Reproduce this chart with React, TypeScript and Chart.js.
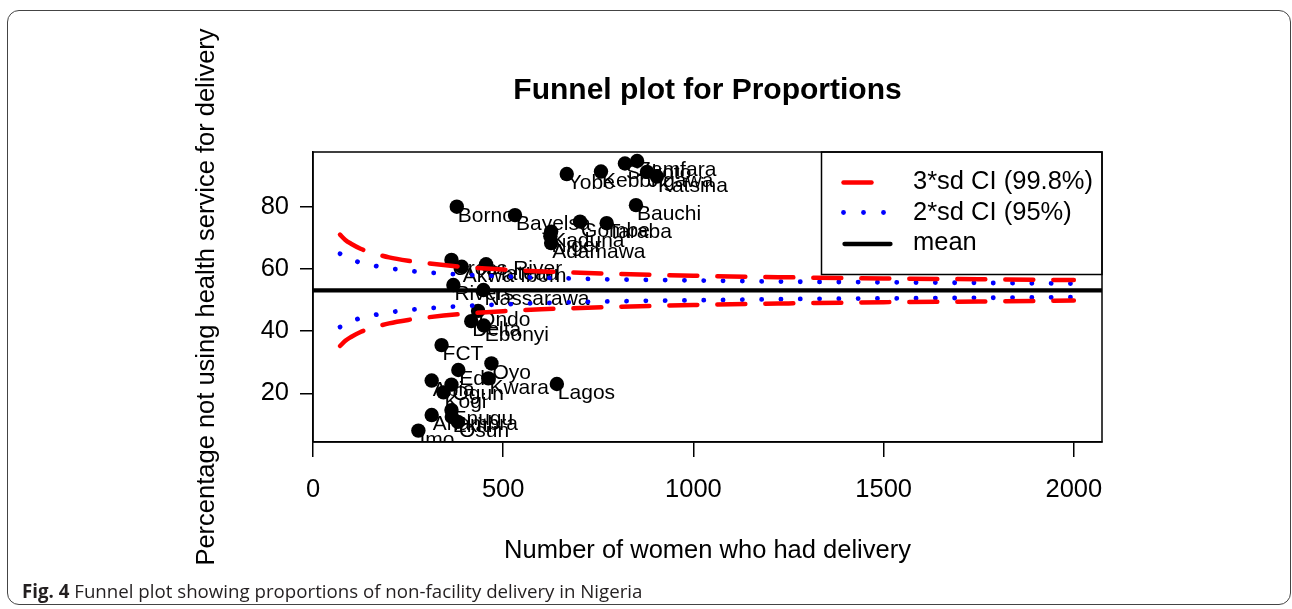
import React, { useEffect, useRef } from 'react';
import { Chart, registerables } from 'chart.js';

Chart.register(...registerables);

// ---- data ----
const stateNames = [
  'Yobe', 'Kebbi', 'Sokoto', 'Zamfara', 'Jigawa', 'Katsina', 'Bauchi', 'Borno', 'Bayelsa',
  'Gombe', 'Taraba', 'Kaduna', 'Niger', 'Adamawa', 'Cross River', 'Akwa Ibom', 'Plateau',
  'Rivers', 'Nassarawa', 'Ondo', 'Delta', 'Ebonyi', 'FCT', 'Oyo', 'Edo', 'Kwara', 'Lagos',
  'Abia', 'Ogun', 'Kogi', 'Enugu', 'Anambra', 'Ekiti', 'Osun', 'Imo',
];
const womenCounts = [
  667, 757, 820, 852, 878, 904, 849, 378, 531,
  702, 772, 626, 624, 626, 364, 391, 455,
  369, 448, 434, 416, 449, 338, 469, 382, 461, 641,
  312, 364, 343, 364, 312, 365, 381, 277,
];
const pctNonFacility = [
  90.5, 91.3, 93.9, 94.7, 91.2, 89.7, 80.5, 80.0, 77.3,
  75.2, 74.7, 72.0, 70.5, 68.3, 62.9, 60.7, 61.5,
  54.8, 53.2, 46.5, 43.2, 41.8, 35.5, 29.6, 27.5, 24.8, 23.0,
  24.1, 22.8, 20.3, 14.6, 13.0, 12.4, 10.8, 8.0,
];

// funnel limits
const ciN = [71, 85, 100, 125, 150, 200, 250, 300, 400, 500, 600, 800, 1000, 1250, 1500, 1750, 2000];
const upper3sd = [71.0, 69.3, 68.1, 66.5, 65.4, 63.7, 62.6, 61.8, 60.6, 59.8, 59.2, 58.4, 57.8, 57.3, 56.9, 56.7, 56.4];
const lower3sd = [35.2, 36.9, 38.1, 39.7, 40.8, 42.5, 43.6, 44.4, 45.6, 46.4, 47.0, 47.8, 48.4, 48.9, 49.3, 49.5, 49.8];
const upper2sd = [64.9, 63.7, 63.1, 62.0, 61.3, 60.2, 59.4, 58.9, 58.1, 57.6, 57.2, 56.6, 56.3, 55.9, 55.7, 55.5, 55.3];
const lower2sd = [41.3, 42.5, 43.1, 44.2, 44.9, 46.0, 46.8, 47.3, 48.1, 48.6, 49.0, 49.6, 49.9, 50.3, 50.5, 50.7, 50.9];
const meanPct = 53.1;

const xTicks = [0, 500, 1000, 1500, 2000];
const yTicks = [20, 40, 60, 80];
const legendLabels = ['3*sd CI (99.8%)', '2*sd CI (95%)', 'mean'];

const X_MIN = 0;
const X_MAX = 2074;
const Y_MIN = 4.34;
const Y_MAX = 97.59;

const FONT = '"Liberation Sans", Arial, Helvetica, sans-serif';
const STATE_DATASET = 5;

const pointLabelPlugin = {
  id: 'pointLabels',
  afterDatasetDraw(chart: any, args: any) {
    if (args.index !== STATE_DATASET) return;
    const { ctx, chartArea: ca } = chart;
    ctx.save();
    ctx.beginPath();
    ctx.rect(ca.left, ca.top, ca.right - ca.left, ca.bottom - ca.top);
    ctx.clip();
    ctx.font = `21px ${FONT}`;
    ctx.fillStyle = '#000';
    ctx.textAlign = 'left';
    ctx.textBaseline = 'middle';
    args.meta.data.forEach((el: any, i: number) => {
      ctx.fillText(stateNames[i], el.x + 1, el.y + 9.5);
    });
    ctx.restore();
  },
};

const boxLegendPlugin = {
  id: 'boxLegend',
  afterDraw(chart: any) {
    const { ctx, chartArea: ca } = chart;
    ctx.save();
    // plot box
    ctx.strokeStyle = '#000';
    ctx.lineWidth = 1.5;
    ctx.setLineDash([]);
    ctx.strokeRect(ca.left, ca.top, ca.right - ca.left, ca.bottom - ca.top);

    // legend box (top-right, inside plot)
    const lx = ca.right - 280.5;
    const ly = ca.top;
    ctx.strokeRect(lx, ly, ca.right - lx, 122.5);

    const rows = [182.5, 212.5, 244];
    const textRows = [182, 212.5, 243];
    const sx = lx + 22;
    // red dashed sample
    ctx.lineCap = 'round';
    ctx.strokeStyle = '#ff0000';
    ctx.lineWidth = 4.5;
    ctx.beginPath();
    ctx.moveTo(sx, rows[0]);
    ctx.lineTo(sx + 28, rows[0]);
    ctx.stroke();
    // blue dotted sample
    ctx.fillStyle = '#0000ff';
    [0, 20, 40].forEach((d) => {
      ctx.beginPath();
      ctx.arc(sx + d, rows[1], 2.4, 0, Math.PI * 2);
      ctx.fill();
    });
    // black solid sample
    ctx.strokeStyle = '#000';
    ctx.lineWidth = 4.3;
    ctx.beginPath();
    ctx.moveTo(sx + 1, rows[2]);
    ctx.lineTo(sx + 47, rows[2]);
    ctx.stroke();

    ctx.fillStyle = '#000';
    ctx.font = `25.5px ${FONT}`;
    ctx.textAlign = 'left';
    ctx.textBaseline = 'middle';
    legendLabels.forEach((t, i) => ctx.fillText(t, lx + 91.5, textRows[i]));
    ctx.restore();
  },
};

function toPoints(xs: number[], ys: number[]) {
  return xs.map((x, i) => ({ x, y: ys[i] }));
}

export default function App() {
  const ref = useRef<HTMLCanvasElement>(null);

  useEffect(() => {
    const red = {
      type: 'line' as const,
      borderColor: '#ff0000',
      borderWidth: 4.5,
      borderDash: [28, 20],
      borderCapStyle: 'round' as const,
      pointRadius: 0,
      fill: false,
      cubicInterpolationMode: 'monotone' as const,
      order: 2,
    };
    const blue = {
      type: 'line' as const,
      borderColor: '#0000ff',
      borderWidth: 4.8,
      borderDash: [0.1, 19.2],
      borderCapStyle: 'round' as const,
      pointRadius: 0,
      fill: false,
      cubicInterpolationMode: 'monotone' as const,
      order: 2,
    };
    const chart = new Chart(ref.current as HTMLCanvasElement, {
      type: 'scatter',
      data: {
        datasets: [
          { ...red, label: '3*sd upper', data: toPoints(ciN, upper3sd) },
          { ...red, label: '3*sd lower', data: toPoints(ciN, lower3sd) },
          { ...blue, label: '2*sd upper', data: toPoints(ciN, upper2sd) },
          { ...blue, label: '2*sd lower', data: toPoints(ciN, lower2sd) },
          {
            type: 'line',
            label: 'mean',
            data: [{ x: X_MIN, y: meanPct }, { x: X_MAX, y: meanPct }],
            borderColor: '#000',
            borderWidth: 4.3,
            pointRadius: 0,
            fill: false,
            order: 1,
          },
          {
            type: 'scatter',
            label: 'States',
            data: toPoints(womenCounts, pctNonFacility),
            backgroundColor: '#000',
            borderColor: '#000',
            borderWidth: 0,
            pointRadius: 7.2,
            pointHoverRadius: 7.2,
            order: 10,
          },
        ] as any,
      },
      options: {
        responsive: false,
        maintainAspectRatio: false,
        devicePixelRatio: 1,
        animation: false,
        events: [],
        layout: { padding: { left: 180, right: 190, top: 73, bottom: 0 } },
        plugins: {
          legend: { display: false },
          tooltip: { enabled: false },
          title: {
            display: true,
            fullSize: false,
            text: 'Funnel plot for Proportions',
            color: '#000',
            font: { family: FONT, size: 30, weight: 'bold' },
            padding: { top: 0, bottom: 43 },
          },
        },
        scales: {
          x: {
            type: 'linear',
            min: X_MIN,
            max: X_MAX,
            afterBuildTicks: (s: any) => {
              s.ticks = xTicks.map((v) => ({ value: v }));
            },
            afterFit: (s: any) => {
              s.height = 167;
            },
            ticks: {
              color: '#000',
              font: { family: FONT, size: 25.5 },
              padding: 18,
              maxRotation: 0,
              autoSkip: false,
              callback: (v: any) => String(v),
            },
            grid: {
              drawOnChartArea: false,
              drawTicks: true,
              tickLength: 15,
              color: '#000',
              lineWidth: 1.5,
            },
            border: { display: true, color: '#000', width: 1.5 },
            title: {
              display: true,
              text: 'Number of women who had delivery',
              color: '#000',
              font: { family: FONT, size: 25.5 },
              padding: { top: 0, bottom: 42.5 },
            },
          },
          y: {
            type: 'linear',
            min: Y_MIN,
            max: Y_MAX,
            afterBuildTicks: (s: any) => {
              s.ticks = yTicks.map((v) => ({ value: v }));
            },
            afterFit: (s: any) => {
              s.width = 133;
            },
            ticks: {
              color: '#000',
              font: { family: FONT, size: 25.5 },
              padding: 11,
              autoSkip: false,
              callback: (v: any) => String(v),
            },
            grid: {
              drawOnChartArea: false,
              drawTicks: true,
              tickLength: 13,
              color: '#000',
              lineWidth: 1.5,
            },
            border: { display: true, color: '#000', width: 1.5 },
            title: {
              display: true,
              text: 'Percentage not using health service for delivery',
              color: '#000',
              font: { family: FONT, size: 25.5 },
              padding: { top: 12, bottom: 0 },
            },
          },
        },
      } as any,
      plugins: [pointLabelPlugin, boxLegendPlugin],
    });
    return () => chart.destroy();
  }, []);

  return (
    <div
      style={{
        position: 'fixed',
        left: 0,
        top: 0,
        width: 1292,
        height: 609,
        background: '#fff',
        overflow: 'hidden',
      }}
    >
      <div
        style={{
          position: 'absolute',
          left: 7,
          top: 10,
          width: 1284,
          height: 595,
          boxSizing: 'border-box',
          border: '1.5px solid #444',
          borderRadius: 12,
        }}
      />
      <canvas
        ref={ref}
        width={1292}
        height={609}
        style={{ position: 'absolute', left: 0, top: 0, width: 1292, height: 609 }}
      />
      <div
        style={{
          position: 'absolute',
          left: 22,
          top: 580,
          fontFamily: '"Open Sans", "Noto Sans", sans-serif',
          fontSize: 18.7,
          lineHeight: '22px',
          color: '#231f20',
          whiteSpace: 'nowrap',
        }}
      >
        <b>Fig. 4</b> Funnel plot showing proportions of non-facility delivery in Nigeria
      </div>
    </div>
  );
}
